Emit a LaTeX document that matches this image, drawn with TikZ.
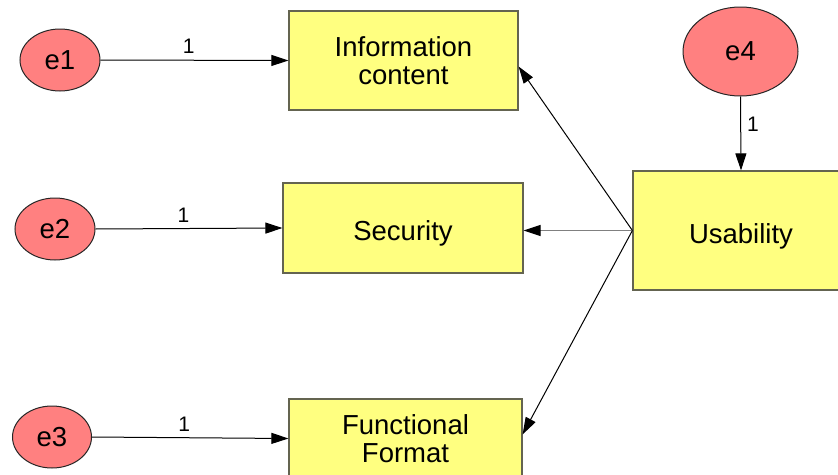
\documentclass[tikz,border=0pt]{standalone}
\usepackage{fontspec}
\setmainfont{Liberation Sans}
\usepackage{tikz}
\usetikzlibrary{shapes.geometric}
\usetikzlibrary{arrows.meta}
\definecolor{boxfill}{RGB}{255,255,128}
\definecolor{errfill}{RGB}{255,128,128}
\definecolor{boxline}{RGB}{100,100,80}
\definecolor{pathgray}{RGB}{128,128,128}

\tikzset{
    var/.style={draw=boxline, fill=boxfill, line width=1.2pt, inner sep=0pt, align=center, font=\fontsize{27.5}{28}\selectfont},
    oneline/.style={text height=25pt, text depth=0pt},
    err/.style={ellipse, draw=black!85, fill=errfill, line width=1pt, inner sep=0pt, font=\fontsize{27.5}{28}\selectfont},
    regpath/.style={-{Triangle[length=17pt,width=11pt,color=black]}, line width=1pt},
    wlabel/.style={font=\fontsize{21}{22}\selectfont, inner sep=6pt}
}

\begin{document}
\begin{tikzpicture}[x=1pt,y=1pt,yscale=-1,xscale=1]
        \useasboundingbox (0,0) rectangle (838,474);
        \clip (0,0) rectangle (838,474);

        %Observed variables
        \node [var, minimum width=229pt, minimum height=99pt] (info) at (403.5,60.5) {Information\\content};
        \node [var, oneline, minimum width=240pt, minimum height=90pt] (sec) at (403,228) {Security};
        \node [var, minimum width=233pt, minimum height=79pt] (func) at (405.5,438.5) {Functional\\Format};
        \node [var, oneline, minimum width=216pt, minimum height=119pt] (usab) at (741,230.5) {Usability};

        %Error terms
        \node [err, minimum width=80pt, minimum height=62pt] (e1) at (60,60) {e1};
        \node [err, minimum width=80pt, minimum height=62pt] (e2) at (55,229) {e2};
        \node [err, minimum width=79pt, minimum height=62pt] (e3) at (52,437) {e3};
        \node [err, minimum width=115pt, minimum height=89pt] (e4) at (740.5,51.5) {e4};

        %Error paths
        \draw [regpath] (e1.east) -- (info.west) node [wlabel, pos=0.47, above] {1};
        \draw [regpath] (e2.east) -- (sec.west) node [wlabel, pos=0.47, above] {1};
        \draw [regpath] (e3.east) -- (func.west) node [wlabel, pos=0.47, above] {1};
        \draw [regpath] (e4.south) -- (usab.north) node [wlabel, pos=0.38, right] {1};

        %Regression paths
        \draw [regpath] (usab.west) -- (info.-3);
        \draw [regpath, draw=pathgray] (usab.west) -- (sec.east |- usab.west);
        \draw [regpath] (usab.west) -- (func.2);
\end{tikzpicture}
\end{document}
